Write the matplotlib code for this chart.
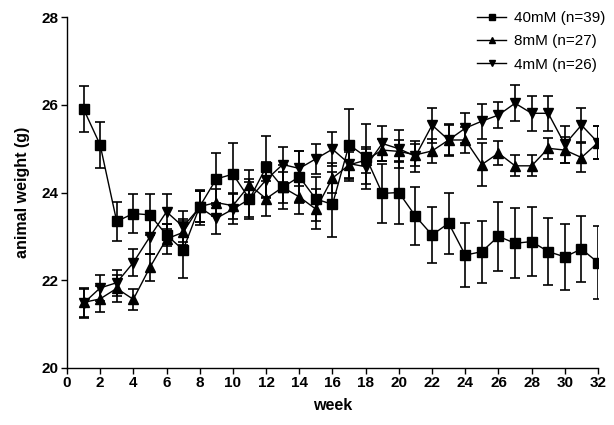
import numpy as np
import matplotlib
matplotlib.use("Agg")
import matplotlib.pyplot as plt
from matplotlib.lines import Line2D

# ── DATA ──────────────────────────────────────────────────────────────────────

weeks = list(range(1, 33))

w40_mean = [25.91, 25.09, 23.34, 23.52, 23.49, 23.03, 22.69, 23.68, 24.31, 24.42,
            23.85, 24.58, 24.12, 24.36, 23.85, 23.73, 25.09, 24.82, 23.98, 24.00,
            23.46, 23.03, 23.30, 22.57, 22.65, 23.00, 22.84, 22.88, 22.65, 22.53,
            22.71, 22.40]
w40_err = [0.53, 0.53, 0.44, 0.45, 0.47, 0.25, 0.65, 0.35, 0.59, 0.70,
           0.45, 0.70, 0.50, 0.60, 0.50, 0.74, 0.82, 0.74, 0.67, 0.71,
           0.67, 0.63, 0.70, 0.73, 0.71, 0.79, 0.80, 0.78, 0.76, 0.76,
           0.76, 0.83]

w8_mean = [21.49, 21.57, 21.81, 21.56, 22.29, 22.94, 23.09, 23.68, 23.77, 23.70,
           24.17, 23.86, 24.12, 23.90, 23.62, 24.33, 24.63, 24.74, 24.97, 24.94,
           24.86, 24.95, 25.20, 25.20, 24.64, 24.90, 24.61, 24.61, 25.01, 24.97,
           24.80, 25.14]
w8_err = [0.33, 0.30, 0.30, 0.24, 0.30, 0.35, 0.30, 0.35, 0.30, 0.30,
          0.35, 0.40, 0.35, 0.40, 0.45, 0.35, 0.30, 0.30, 0.25, 0.25,
          0.25, 0.27, 0.36, 0.30, 0.48, 0.28, 0.24, 0.24, 0.24, 0.30,
          0.32, 0.37]

w4_mean = [21.47, 21.82, 21.94, 22.40, 22.99, 23.56, 23.22, 23.66, 23.41, 23.62,
           23.85, 24.29, 24.64, 24.55, 24.77, 24.99, 24.66, 24.59, 25.12, 25.00,
           24.83, 25.54, 25.20, 25.47, 25.63, 25.77, 26.04, 25.81, 25.81, 25.10,
           25.54, 25.14]
w4_err = [0.33, 0.30, 0.30, 0.31, 0.40, 0.40, 0.35, 0.40, 0.35, 0.35,
          0.40, 0.40, 0.40, 0.40, 0.34, 0.39, 0.35, 0.40, 0.40, 0.43,
          0.35, 0.40, 0.35, 0.35, 0.40, 0.30, 0.41, 0.40, 0.40, 0.42,
          0.39, 0.37]

series_labels = ["40mM (n=39)", "8mM (n=27)", "4mM (n=26)"]
x_ticks = list(range(0, 33, 2))
y_ticks = [20, 22, 24, 26, 28]

# ── PLOT ──────────────────────────────────────────────────────────────────────

plt.rcParams["font.family"] = ["Liberation Sans", "DejaVu Sans"]

fig = plt.figure(figsize=(6.14, 4.25), dpi=100)
ax = fig.add_axes([0.109, 0.135, 0.865, 0.824])

series = [
    (w40_mean, w40_err, "s"),
    (w8_mean,  w8_err,  "^"),
    (w4_mean,  w4_err,  "v"),
]

handles = []
for (mean, err, marker), label in zip(series, series_labels):
    ax.errorbar(weeks, mean, yerr=err, color="black", marker=marker,
                markersize=6.5, linewidth=1.0, elinewidth=1.2,
                capsize=3.5, capthick=1.2)
    # legend shows just the line with a small marker
    handles.append(Line2D([], [], color="black", marker=marker,
                          markersize=4.5, linewidth=1.0, label=label))

ax.set_xlim(0, 32)
ax.set_ylim(20, 28)
ax.set_xticks(x_ticks)
ax.set_yticks(y_ticks)
ax.spines["top"].set_visible(False)
ax.spines["right"].set_visible(False)
for s in ["left", "bottom"]:
    ax.spines[s].set_linewidth(1.0)
ax.tick_params(direction="out", length=4, width=1.0, labelsize=11, pad=2)
for lab in ax.get_xticklabels() + ax.get_yticklabels():
    lab.set_fontweight("bold")

ax.set_xlabel("week", fontsize=11.5, fontweight="bold", labelpad=6)
ax.set_ylabel("animal weight (g)", fontsize=11.5, fontweight="bold", labelpad=8)

ax.legend(handles=handles, loc="upper right", bbox_to_anchor=(1.025, 1.035),
          frameon=False, fontsize=11, handlelength=1.9, handletextpad=0.5,
          labelspacing=0.6, borderaxespad=0)

fig.savefig("out.png", dpi=100)
